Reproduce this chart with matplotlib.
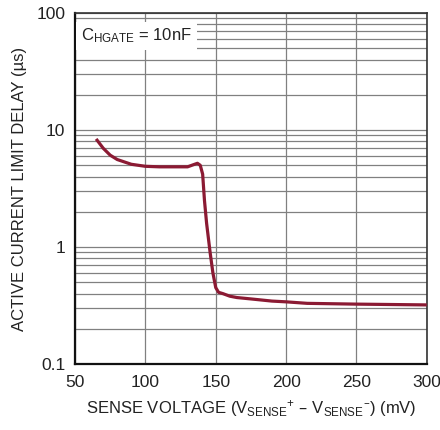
import matplotlib
matplotlib.use("Agg")
import matplotlib.pyplot as plt
from matplotlib.ticker import FixedLocator, NullFormatter, LogLocator

# Данные кривой
sense_mv = [65, 70, 75, 80, 90, 100, 110, 120, 130, 134, 137, 139, 140.7, 142,
            143.5, 146, 148, 150, 152, 155, 160, 165, 175, 190, 200, 215, 250, 300]
delay_us = [8.4, 7.0, 6.1, 5.6, 5.1, 4.9, 4.85, 4.85, 4.85, 5.05, 5.2, 5.0, 4.2, 2.5,
            1.6, 0.9, 0.6, 0.45, 0.41, 0.40, 0.38, 0.37, 0.36, 0.345, 0.34, 0.33, 0.325, 0.32]

x_ticks = [50, 100, 150, 200, 250, 300]
y_ticks = [0.1, 1, 10, 100]
y_tick_labels = ["0.1", "1", "10", "100"]

plt.rcParams["font.family"] = ["Liberation Sans Narrow", "Liberation Sans", "DejaVu Sans"]
plt.rcParams["mathtext.default"] = "regular"

fig = plt.figure(figsize=(4.4, 4.3), dpi=100)
ax = fig.add_axes([0.1705, 0.1535, 0.7995, 0.816])

ax.plot(sense_mv, delay_us, color="#8b1a33", linewidth=2.3, solid_capstyle="butt", zorder=3)

ax.set_yscale("log")
ax.set_xlim(50, 300)
ax.set_ylim(0.1, 100)

ax.xaxis.set_major_locator(FixedLocator(x_ticks))
ax.set_xticklabels([str(v) for v in x_ticks])
ax.yaxis.set_major_locator(FixedLocator(y_ticks))
ax.set_yticklabels(y_tick_labels)
ax.yaxis.set_minor_locator(LogLocator(base=10, subs=range(2, 10)))
ax.yaxis.set_minor_formatter(NullFormatter())

ax.tick_params(which="both", length=0, labelsize=12.5, colors="#222222")
ax.tick_params(axis="x", pad=8)
ax.tick_params(axis="y", pad=7)
ax.grid(True, which="major", color="#808080", linewidth=0.9)
ax.grid(True, which="minor", axis="y", color="#808080", linewidth=0.9)
ax.set_axisbelow(True)

for side in ["left", "bottom"]:
    ax.spines[side].set_linewidth(1.6)
    ax.spines[side].set_color("#111111")
for side in ["top", "right"]:
    ax.spines[side].set_linewidth(1.2)
    ax.spines[side].set_color("#333333")

ax.set_xlabel("SENSE VOLTAGE (V$_{SENSE}$$^{+}$ – V$_{SENSE}$$^{–}$) (mV)",
              fontsize=12, color="#222222", labelpad=6)
ax.set_ylabel("ACTIVE CURRENT LIMIT DELAY (µs)", fontsize=12, color="#222222", labelpad=7)

# Подпись условия в белой рамке
ax.text(0.018, 0.935, "C$_{HGATE}$ = 10nF", transform=ax.transAxes, fontsize=12,
        color="#222222", ha="left", va="center", zorder=4,
        bbox=dict(boxstyle="square,pad=0.3", facecolor="white", edgecolor="none"))

fig.savefig("out.png", dpi=100)
